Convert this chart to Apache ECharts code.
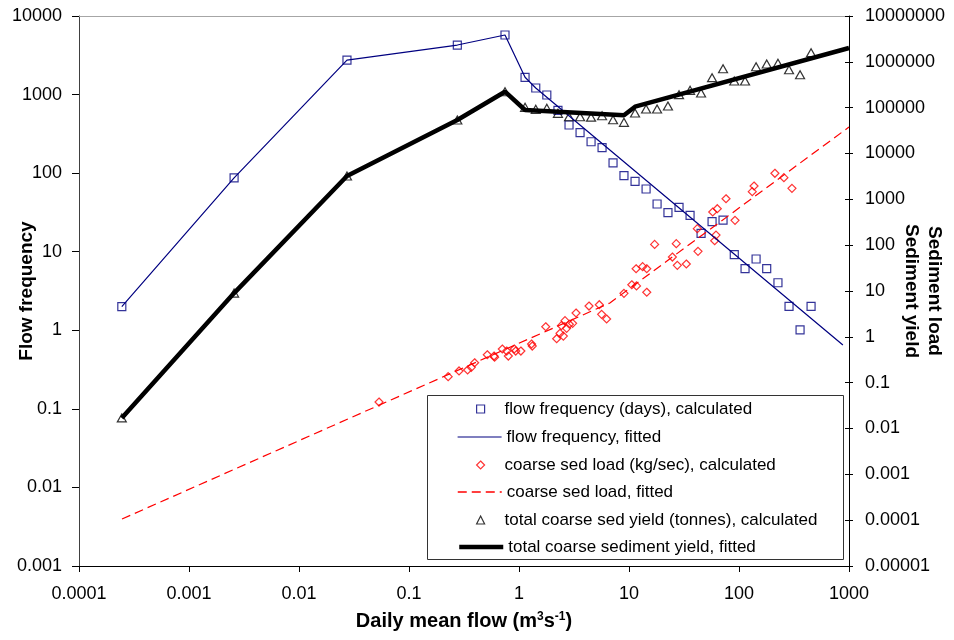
<!DOCTYPE html>
<html><head><meta charset="utf-8">
<script src="https://cdn.jsdelivr.net/npm/echarts@6/dist/echarts.min.js"></script>
<style>html,body{margin:0;padding:0;background:#fff}#c{width:954px;height:640px}</style>
</head><body><div id="c"></div>
<script>
// ---- data ----
const xTickLabels = ['0.0001','0.001','0.01','0.1','1','10','100','1000'];
const leftTickLabels = ['0.001','0.01','0.1','1','10','100','1000','10000'];
const rightTickLabels = ['0.00001','0.0001','0.001','0.01','0.1','1','10','100','1000','10000','100000','1000000','10000000'];

// flow frequency (days), calculated
const flowX = [0.000245, 0.00257, 0.0273, 0.275, 0.746, 1.135, 1.42, 1.79, 2.26, 2.85, 3.59, 4.52, 5.69, 7.16, 9.0, 11.35, 14.3, 18.0, 22.6, 28.5, 35.9, 45.2, 56.9, 71.6, 90.6, 113.5, 143, 178.6, 226, 285, 359, 452];
const flowDays = [2.0, 87, 2750, 4270, 5730, 1660, 1213, 988, 631, 410, 327, 251, 211, 135, 93, 78.7, 62.8, 40.5, 31.4, 36.7, 29, 17.1, 24.1, 25.3, 9.2, 6.08, 8.08, 6.08, 4.03, 2.02, 1.01, 2.02];

// flow frequency, fitted
const flowFitX = [0.000245, 0.00257, 0.0273, 0.275, 0.746, 1.135, 1.42, 880];
const flowFitY = [2.0, 87, 2750, 4270, 5730, 1660, 1213, 0.65];

// coarse sed load (kg/sec), calculated
const sedX = [0.0534, 0.227, 0.285, 0.341, 0.368, 0.395, 0.515, 0.593, 0.6, 0.705, 0.773, 0.8, 0.906, 0.933, 1.04, 1.30, 1.32, 1.75, 2.2, 2.36, 2.43, 2.53, 2.62, 2.71, 2.87, 3.07, 3.3, 4.33, 5.37, 5.64, 6.26, 9.0, 10.6, 11.7, 14.5, 11.6, 13.3, 14.5, 17.1, 24.8, 26.9, 27.5, 33.2, 42.4, 41.8, 57.7, 63.5, 76.2, 61.8, 60.1, 92, 132, 137, 212, 256, 303];
const sedLoad = [0.0378, 0.135, 0.18, 0.189, 0.216, 0.272, 0.407, 0.381, 0.36, 0.542, 0.49, 0.381, 0.542, 0.49, 0.49, 0.697, 0.63, 1.66, 0.91, 1.19, 1.75, 1.04, 2.25, 1.53, 1.88, 1.97, 3.31, 4.7, 5.02, 3.1, 2.45, 8.9, 13.7, 12.9, 9.4, 30.6, 33.9, 30.6, 104, 55.1, 108, 36.3, 38.8, 73.4, 229, 529, 624, 1030, 166, 125, 348, 1468, 1954, 3700, 2965, 1740];

// coarse sed load, fitted
const sedFitX = [0.000246, 6.7, 1000];
const sedFitY = [0.000106, 5.47, 37800];

// total coarse sed yield (tonnes), calculated
const yieldX = flowX;
const yieldT = [0.017, 9.0, 3230, 53800, 223000, 101700, 92000, 96600, 75200, 63500, 63500, 62000, 66800, 54600, 47900, 76400, 93500, 93500, 108700, 192000, 239000, 209000, 451000, 708000, 382000, 382000, 783000, 897000, 929000, 673000, 524000, 1585000];

// total coarse sediment yield, fitted
const yieldFitX = [0.000245, 0.00257, 0.0273, 0.275, 0.746, 1.135, 9.0, 11.35, 1000];
const yieldFitY = [0.017, 9.0, 3230, 53800, 223000, 89000, 68100, 105000, 2000000];

const names = [
  'flow frequency (days), calculated',
  'flow frequency, fitted',
  'coarse sed load (kg/sec), calculated',
  'coarse sed load, fitted',
  'total coarse sed yield (tonnes), calculated',
  'total coarse sediment yield, fitted'
];

// ---- helpers ----
const zip = (a, b) => a.map((v, i) => [v, b[i]]);
const lab = arr => v => arr.find(s => Math.abs(Math.log10(+s) - Math.log10(v)) < 0.01) || '';
const FONT = 'Liberation Sans, Arial, sans-serif';

const chart = echarts.init(document.getElementById('c'), null, {renderer: 'canvas'});

const legendRowCenters = [409, 437, 465, 492, 520, 547];
const legends = names.map((n, i) => {
  const isLine = i % 2 === 1;
  const l = {
    show: true, data: [n], top: legendRowCenters[i] - 8.5, padding: 0,
    itemGap: 0, selectedMode: false, z: 5, symbolKeepAspect: true
  };
  if (isLine) {
    l.left = 457; l.itemWidth = 44; l.itemHeight = 17;
    l.textStyle = {fontFamily: FONT, fontSize: 17, color: '#000'};
    l.itemStyle = {color: 'rgba(0,0,0,0)', borderWidth: 0, opacity: 0};
    l.lineStyle = {width: [1.2, 1.5, 4.5][Math.floor(i / 2)]};
  } else {
    l.left = 476; l.itemWidth = 8; l.itemHeight = 8;
    l.textStyle = {fontFamily: FONT, fontSize: 17, color: '#000', padding: [0, 0, 0, 15]};
    l.itemStyle = {borderWidth: 1.2};
  }
  return l;
});

const option = {
  animation: false,
  backgroundColor: '#fff',
  textStyle: {fontFamily: FONT},
  grid: {left: 79, right: 105, top: 16, bottom: 74, containLabel: false, outerBoundsMode: 'none'},
  legend: legends,
  graphic: [{
    type: 'rect', z: 3, silent: true,
    shape: {x: 427.5, y: 395.5, width: 416, height: 164},
    style: {fill: '#fff', stroke: '#333', lineWidth: 1}
  }],
  xAxis: [{
    type: 'log', logBase: 10, min: 0.0001, max: 1000, interval: 1, position: 'bottom',
    name: 'Daily mean flow (m{sup|3}s{sup|-1})', nameLocation: 'middle', nameGap: 45, nameMoveOverlap: false,
    nameTextStyle: {fontFamily: FONT, fontSize: 20, fontWeight: 'bold', color: '#000',
      rich: {sup: {fontFamily: FONT, fontSize: 12, fontWeight: 'bold', color: '#000', verticalAlign: 'top'}}},
    axisLine: {show: true, lineStyle: {color: '#000', width: 1}},
    axisTick: {show: true, inside: false, length: 6, lineStyle: {color: '#000'}},
    axisLabel: {show: true, margin: 19, fontSize: 18, fontFamily: FONT, color: '#000', formatter: lab(xTickLabels), hideOverlap: false},
    splitLine: {show: false}, minorTick: {show: false}
  }, {
    type: 'log', logBase: 10, min: 0.0001, max: 1000, interval: 1, position: 'top',
    axisLine: {show: true, lineStyle: {color: '#a6a6a6', width: 1}},
    axisTick: {show: false}, axisLabel: {show: false}, splitLine: {show: false}
  }],
  yAxis: [{
    type: 'log', logBase: 10, min: 0.001, max: 10000, interval: 1, position: 'left',
    name: 'Flow frequency', nameLocation: 'middle', nameGap: 43, nameMoveOverlap: false,
    nameTextStyle: {fontFamily: FONT, fontSize: 19, fontWeight: 'bold', color: '#000'},
    axisLine: {show: true, lineStyle: {color: '#404040', width: 1}},
    axisTick: {show: true, inside: false, length: 7, lineStyle: {color: '#000'}},
    axisLabel: {show: true, margin: 17, fontSize: 18, fontFamily: FONT, color: '#000', formatter: lab(leftTickLabels), hideOverlap: false},
    splitLine: {show: false}, minorTick: {show: false}
  }, {
    type: 'log', logBase: 10, min: 0.00001, max: 10000000, interval: 1, position: 'right',
    name: 'Sediment load\nSediment yield', nameLocation: 'middle', nameGap: 51, nameRotate: -90, nameMoveOverlap: false,
    nameTextStyle: {fontFamily: FONT, fontSize: 19, fontWeight: 'bold', color: '#000', lineHeight: 23},
    axisLine: {show: true, lineStyle: {color: '#000', width: 1}},
    axisTick: {show: true, inside: false, length: 4, lineStyle: {color: '#000'}},
    axisLabel: {show: true, margin: 16, fontSize: 18, fontFamily: FONT, color: '#000', formatter: lab(rightTickLabels), hideOverlap: false},
    splitLine: {show: false}, minorTick: {show: false}
  }, {
    type: 'log', logBase: 10, min: 0.00001, max: 10000000, interval: 1, position: 'right',
    axisLine: {show: false},
    axisTick: {show: true, inside: true, length: 4, lineStyle: {color: '#000'}},
    axisLabel: {show: false}, splitLine: {show: false}
  }],
  series: [{
    name: names[0], type: 'scatter', xAxisIndex: 0, yAxisIndex: 0, z: 2,
    data: zip(flowX, flowDays), symbol: 'rect', symbolSize: 8,
    itemStyle: {color: 'rgba(0,0,0,0)', borderColor: '#000080', borderWidth: 1.2}
  }, {
    name: names[1], type: 'line', xAxisIndex: 0, yAxisIndex: 0, z: 3,
    data: zip(flowFitX, flowFitY), symbol: 'none', showSymbol: false,
    itemStyle: {color: '#000080'}, lineStyle: {color: '#000080', width: 1.2}
  }, {
    name: names[2], type: 'scatter', xAxisIndex: 0, yAxisIndex: 1, z: 2,
    data: zip(sedX, sedLoad), symbol: 'diamond', symbolSize: [8, 8],
    itemStyle: {color: 'rgba(0,0,0,0)', borderColor: '#ff0000', borderWidth: 1.2}
  }, {
    name: names[3], type: 'line', xAxisIndex: 0, yAxisIndex: 1, z: 3,
    data: zip(sedFitX, sedFitY), symbol: 'none', showSymbol: false,
    itemStyle: {color: '#ff0000'}, lineStyle: {color: '#ff0000', width: 1.2, type: [9, 5]}
  }, {
    name: names[4], type: 'scatter', xAxisIndex: 0, yAxisIndex: 1, z: 2,
    data: zip(yieldX, yieldT), symbol: 'triangle', symbolSize: [9, 8],
    itemStyle: {color: 'rgba(0,0,0,0)', borderColor: '#000', borderWidth: 1.2}
  }, {
    name: names[5], type: 'line', xAxisIndex: 0, yAxisIndex: 1, z: 3,
    data: zip(yieldFitX, yieldFitY), symbol: 'none', showSymbol: false,
    itemStyle: {color: '#000'}, lineStyle: {color: '#000', width: 4.5}
  }]
};
chart.setOption(option);
</script>
</body></html>
